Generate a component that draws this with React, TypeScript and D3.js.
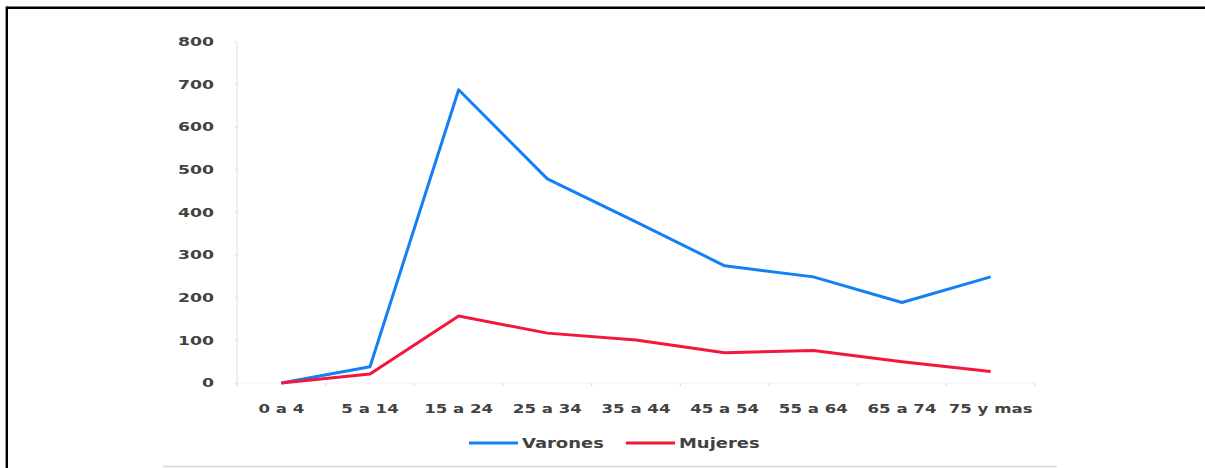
import { useMemo } from "react";
import * as d3 from "d3";

const categories = ["0 a 4", "5 a 14", "15 a 24", "25 a 34", "35 a 44", "45 a 54", "55 a 64", "65 a 74", "75 y mas"];
const varones = [0, 38, 688, 479, 378, 275, 249, 189, 249];
const mujeres = [0, 21, 157, 117, 101, 71, 76, 50, 27];
const yTicks = [0, 100, 200, 300, 400, 500, 600, 700, 800];

const WIDTH = 1205;
const HEIGHT = 468;
const LEFT = 237;
const RIGHT = 1035;
const TOP = 42;
const BOTTOM = 383;
const SX = 1.33; // the picture is stretched sideways

const BLUE = "#1380f5";
const RED = "#f2173b";
const TEXT = "#424242";
const FONT = "'DejaVu Sans', Verdana, sans-serif";

const App = () => {
    const x = useMemo(() => d3.scaleBand<string>().domain(categories).range([LEFT, RIGHT]), []);
    const y = useMemo(() => d3.scaleLinear().domain([0, 800]).range([BOTTOM, TOP]), []);

    const line = d3
        .line<number>()
        .x((_, i) => (x(categories[i]) || 0) + x.bandwidth() / 2)
        .y((d) => y(d));

    const series = [
        { name: "Varones", values: varones, color: BLUE },
        { name: "Mujeres", values: mujeres, color: RED },
    ];

    const boundaries = [...categories.map((c) => x(c) || 0), RIGHT];

    return (
        <div style={{ position: "absolute", left: 0, top: 0 }}>
            <svg width={WIDTH} height={HEIGHT} style={{ display: "block", background: "#fff" }}>
                {/* frame */}
                <line x1={6.8} x2={WIDTH} y1={7.8} y2={7.8} stroke="#000" strokeWidth={2.4} />
                <line x1={6.8} x2={6.8} y1={6.6} y2={HEIGHT} stroke="#000" strokeWidth={2.4} />
                <line x1={163} x2={1057} y1={466.5} y2={466.5} stroke="#d6d6d6" strokeWidth={1.5} />

                {/* y axis */}
                <line x1={LEFT} x2={LEFT} y1={TOP} y2={BOTTOM + 2} stroke="#dcdcf2" strokeWidth={1} />
                {yTicks.map((t) => (
                    <g key={t}>
                        <line x1={LEFT - 3} x2={LEFT} y1={y(t)} y2={y(t)} stroke="#e2e2f2" />
                        <g transform={`translate(214, ${y(t)}) scale(${SX}, 1)`}>
                            <text
                                textAnchor="end"
                                dominantBaseline="central"
                                fontFamily={FONT}
                                fontSize={13}
                                fontWeight={600}
                                fill={TEXT}
                            >
                                {t}
                            </text>
                        </g>
                    </g>
                ))}

                {/* x axis */}
                <line x1={LEFT} x2={RIGHT} y1={BOTTOM} y2={BOTTOM} stroke="#f1f1f8" />
                {boundaries.map((b, i) => (
                    <line key={i} x1={b} x2={b} y1={BOTTOM} y2={BOTTOM + 3} stroke="#d6d6ee" />
                ))}
                {categories.map((c) => (
                    <g key={c} transform={`translate(${(x(c) || 0) + x.bandwidth() / 2}, 408) scale(${SX}, 1)`}>
                        <text
                            textAnchor="middle"
                            dominantBaseline="central"
                            fontFamily={FONT}
                            fontSize={12.5}
                            fontWeight={600}
                            fill={TEXT}
                        >
                            {c}
                        </text>
                    </g>
                ))}

                {/* lines */}
                {series.map((s) => (
                    <path
                        key={s.name}
                        d={line(s.values) || undefined}
                        fill="none"
                        stroke={s.color}
                        strokeWidth={3}
                        strokeLinejoin="round"
                    />
                ))}

                {/* legend */}
                {series.map((s, i) => {
                    const lx = i === 0 ? 469 : 626;
                    return (
                        <g key={s.name}>
                            <line x1={lx} x2={lx + 49} y1={443} y2={443} stroke={s.color} strokeWidth={3} />
                            <g transform={`translate(${lx + 53}, 443) scale(${SX}, 1)`}>
                                <text
                                    dominantBaseline="central"
                                    fontFamily={FONT}
                                    fontSize={13.5}
                                    fontWeight={600}
                                    fill={TEXT}
                                >
                                    {s.name}
                                </text>
                            </g>
                        </g>
                    );
                })}
            </svg>
        </div>
    );
};

export default App;
